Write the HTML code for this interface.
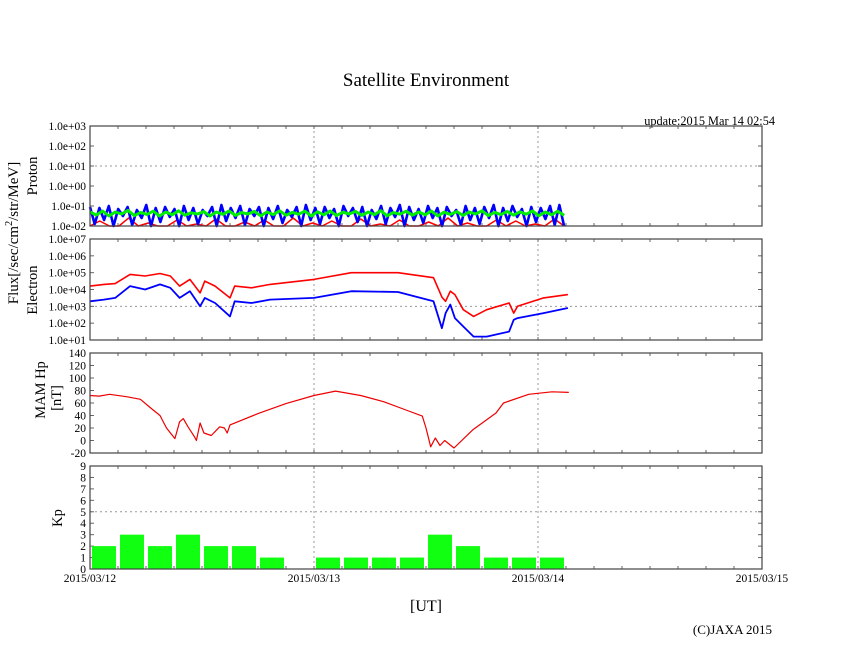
<!DOCTYPE html>
<html><head><meta charset="utf-8"><style>
html,body{margin:0;padding:0;background:#fff;}
svg{display:block;font-family:"Liberation Serif",serif;}
</style></head><body>
<svg id="c" width="846" height="655" viewBox="0 0 846 655">
<text x="426" y="86" font-size="19" text-anchor="middle">Satellite Environment</text>
<text x="775" y="125" font-size="12.3" text-anchor="end">update:2015 Mar 14 02:54</text>
<text transform="translate(18,233) rotate(-90)" font-size="15" text-anchor="middle">Flux[/sec/cm<tspan dy="-6" font-size="10">2</tspan><tspan dy="6">/str/MeV]</tspan></text>
<text transform="translate(37,176) rotate(-90)" font-size="14.5" text-anchor="middle">Proton</text>
<text transform="translate(37,290) rotate(-90)" font-size="14.5" text-anchor="middle">Electron</text>
<text transform="translate(45,390) rotate(-90)" font-size="14.5" text-anchor="middle">MAM Hp</text>
<text transform="translate(61,398) rotate(-90)" font-size="14.5" text-anchor="middle">[nT]</text>
<text transform="translate(62,518) rotate(-90)" font-size="14.5" text-anchor="middle">Kp</text>
<text x="426" y="611" font-size="16" text-anchor="middle">[UT]</text>
<text x="772" y="634" font-size="13" text-anchor="end">(C)JAXA 2015</text>
</svg>
<script>
// ---- data ----
const dayLabels = ["2015/03/12","2015/03/13","2015/03/14","2015/03/15"];
const protonTicks = ["1.0e-02","1.0e-01","1.0e+00","1.0e+01","1.0e+02","1.0e+03"];
const electronTicks = ["1.0e+01","1.0e+02","1.0e+03","1.0e+04","1.0e+05","1.0e+06","1.0e+07"];
const hpTicks = [-20,0,20,40,60,80,100,120,140];
const kpTicks = [0,1,2,3,4,5,6,7,8,9];
// Kp per 3-hour interval
const kpValues = [2,3,2,3,2,2,1,0, 1,1,1,1,3,2,1,1, 1];
// Hp (nT): time in hours, value
const hpTimes = [0,1,2.1,4,5.4,6.5,7.5,8.2,9.1,9.6,10,10.5,11.2,11.4,11.8,12.2,13,13.9,14.4,14.7,15,18,21,24,26.3,29,31.5,34,35.6,36,36.5,37,37.5,38,39,41,43.5,44.3,47,49.5,51.3];
const hpValues = [72,71,74,70,66,52,40,20,3,30,35,22,6,0,28,12,8,22,20,12,25,43,59,72,79,72,62,48,39,20,-10,4,-8,0,-12,17,44,60,74,78,77];
// Electron flux (log10): times in hours
const eTimes = [0,1.5,2.7,4.3,5.9,7.5,8.6,9.6,10.7,11.8,12.3,13.4,15,15.5,17.3,19.3,24,28,33,36.8,37.7,38.1,38.6,39.1,40,41.1,42.5,44.9,45.4,45.8,48.6,51.2];
const eRed  = [4.2,4.3,4.35,4.9,4.8,4.95,4.8,4.2,4.6,3.8,4.5,4.2,3.5,4.2,4.1,4.3,4.6,5.0,5.0,4.7,3.55,3.3,3.9,3.7,2.8,2.4,2.8,3.2,2.6,3.0,3.5,3.7];
const eBlue = [3.3,3.4,3.5,4.2,4.0,4.3,4.1,3.5,3.9,3.0,3.5,3.2,2.4,3.3,3.2,3.4,3.5,3.9,3.85,3.3,1.7,2.6,3.1,2.3,1.8,1.2,1.2,1.5,2.2,2.3,2.6,2.9];
// Proton flux (log10), sampled evenly from hour 0 to 50.8
const protonBlue = [-1.05,-1.9,-1.1,-1.7,-1.0,-2,-1.15,-1.5,-1.05,-1.95,-1.2,-1.6,-0.95,-2,-1.1,-1.8,-1.05,-1.55,-1.15,-2,-1.0,-1.7,-1.1,-1.9,-1.2,-1.5,-1.05,-2,-0.95,-1.75,-1.1,-1.6,-1.0,-1.95,-1.15,-1.5,-1.05,-2,-1.1,-1.65,-1.0,-1.85,-1.2,-1.55,-1.05,-2,-0.95,-1.7,-1.1,-1.9,-1.05,-1.6,-1.15,-2,-1.0,-1.5,-1.1,-1.8,-1.05,-2,-1.2,-1.65,-1.0,-1.9,-1.1,-1.55,-0.95,-2,-1.05,-1.7,-1.15,-1.85,-1.0,-1.6,-1.1,-2,-1.05,-1.5,-1.2,-1.95,-1.0,-1.7,-1.1,-1.9,-1.05,-1.6,-0.95,-2,-1.1,-1.75,-1.0,-1.55,-1.15,-2,-1.05,-1.8,-1.1,-1.65,-1.0,-1.95,-0.95,-2];
const protonGreen = [-1.3,-1.45,-1.25,-1.5,-1.3,-1.4,-1.22,-1.48,-1.32,-1.42,-1.26,-1.5,-1.3,-1.44,-1.24,-1.46,-1.34,-1.4,-1.28,-1.5,-1.3,-1.42,-1.25,-1.47,-1.33,-1.4,-1.27,-1.49,-1.3,-1.43,-1.24,-1.46,-1.32,-1.41,-1.26,-1.5,-1.29,-1.44,-1.25,-1.48,-1.31,-1.4,-1.27,-1.47,-1.3,-1.43,-1.23,-1.49,-1.33,-1.41,-1.26,-1.46,-1.3,-1.44,-1.25,-1.5,-1.31,-1.42,-1.28,-1.47,-1.3,-1.4,-1.24,-1.48,-1.32,-1.43,-1.27,-1.46,-1.29,-1.41,-1.25,-1.49,-1.3,-1.44,-1.26,-1.47];
const protonRed = [-2,-1.75,-2,-2,-1.6,-2,-1.85,-2,-2,-1.7,-2,-1.9,-2,-1.65,-2,-2,-1.8,-2,-1.7,-2,-2,-1.6,-2,-1.85,-2,-1.75,-2,-2,-1.65,-2,-1.9,-2,-1.7,-2,-2,-1.8,-2,-1.6,-2,-1.85,-2,-2,-1.7,-2,-1.75,-2,-1.9,-2,-1.65,-2];
const protonEnd = 50.8;

// ---- layout ----
const NS="http://www.w3.org/2000/svg";
const svg=document.getElementById('c');
const X0=90, X1=762, HOURS=72;
const xs=h=>X0+(h/HOURS)*(X1-X0);
function el(tag,attrs,parent){const e=document.createElementNS(NS,tag);for(const k in attrs)e.setAttribute(k,attrs[k]);(parent||svg).appendChild(e);return e;}
const panels=[
 {name:'proton',top:126,bot:226,min:-2,max:3,ticks:protonTicks,grid:1},
 {name:'electron',top:239,bot:340,min:1,max:7,ticks:electronTicks,grid:3},
 {name:'hp',top:353,bot:453,min:-20,max:140,ticks:hpTicks,grid:null},
 {name:'kp',top:466,bot:569,min:0,max:9,ticks:kpTicks,grid:5}
];
panels.forEach(p=>{p.ys=v=>p.bot-(v-p.min)/(p.max-p.min)*(p.bot-p.top);});

panels.forEach(p=>{
 const g=el('g',{});
 
 
 [1,2].forEach(d=>{const l=el('line',{x1:xs(d*24),x2:xs(d*24),y1:p.top,y2:p.bot,stroke:'#999','stroke-dasharray':'2,3'},g);
  });
 if(p.grid!==null){const y=p.ys(p.grid);const l=el('line',{x1:X0,x2:X1,y1:y,y2:y,stroke:'#999','stroke-dasharray':'2,3'},g);
  }
 for(let h=3;h<HOURS;h+=3){const x=xs(h);
  el('line',{x1:x,x2:x,y1:p.top,y2:p.top+3,stroke:'#666'},g);
  el('line',{x1:x,x2:x,y1:p.bot,y2:p.bot-3,stroke:'#666'},g);}
 p.ticks.forEach((t,i)=>{const v=(p.name==='proton'||p.name==='electron')?p.min+i:t;const y=p.ys(v);
  el('line',{x1:X0,x2:X0+4,y1:y,y2:y,stroke:'#666'},g);
  el('line',{x1:X1,x2:X1-4,y1:y,y2:y,stroke:'#666'},g);
  const tx=el('text',{x:86,y:y+4,'font-size':11.5,'text-anchor':'end'},g);tx.textContent=t;
  });
 p.g=g;
});

function line(p,times,vals,color,name,w){
 const pts=times.map((t,i)=>xs(t).toFixed(1)+','+p.ys(vals[i]).toFixed(1)).join(' ');
 const pl=el('polyline',{points:pts,fill:'none',stroke:color,'stroke-width':w||1.1,'stroke-linejoin':'round'},p.g);
 
 
}
function even(arr){return arr.map((_,i)=>i*protonEnd/(arr.length-1));}
line(panels[0],even(protonRed),protonRed,'#f00','proton-red-series',1.5);
line(panels[0],even(protonBlue),protonBlue,'#00f','proton-blue-series',2.6);
line(panels[0],even(protonGreen),protonGreen,'#0e0','proton-green-series',3);
line(panels[1],eTimes,eRed,'#f00','electron-red-series',1.6);
line(panels[1],eTimes,eBlue,'#00f','electron-blue-series',1.8);
line(panels[2],hpTimes,hpValues,'#e00','hp-series',1.2);

const kp=panels[3];
kpValues.forEach((v,i)=>{if(!v)return;const x=xs(i*3)+2,w=xs(3)-X0-4;
 const r=el('rect',{x:x,y:kp.ys(v),width:w,height:kp.bot-kp.ys(v),fill:'#1f1'},kp.g);
 
 });

panels.forEach(p=>{const f=el('rect',{x:X0,y:p.top,width:X1-X0,height:p.bot-p.top,fill:'none',stroke:'#444','stroke-width':1.2},p.g);
 });
dayLabels.forEach((d,i)=>{const t=el('text',{x:xs(i*24),y:582,'font-size':11.5,'text-anchor':'middle'});t.textContent=d;
 });
</script>
</body></html>
